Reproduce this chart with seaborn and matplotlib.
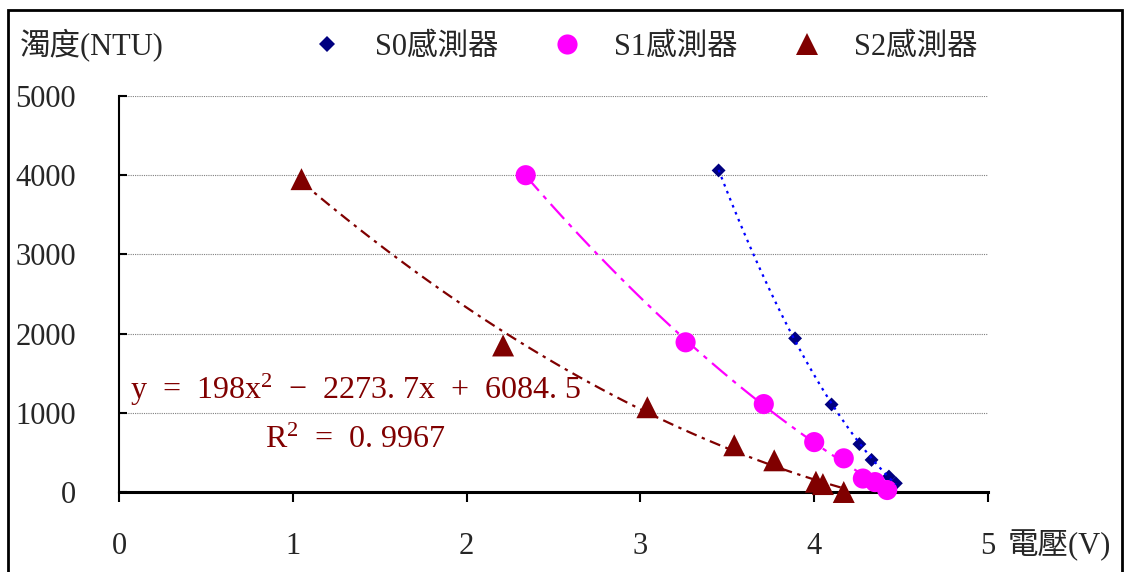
import numpy as np
import pandas as pd
import matplotlib
matplotlib.use("Agg")
import matplotlib.pyplot as plt
from matplotlib.lines import Line2D
from matplotlib.patches import Rectangle
import seaborn as sns

# data
s0_v = [3.45, 3.89, 4.10, 4.26, 4.33, 4.43, 4.47]
s0_ntu = [4060, 1940, 1105, 605, 405, 195, 110]
s1_v = [2.34, 3.26, 3.71, 4.00, 4.17, 4.28, 4.35, 4.42]
s1_ntu = [4000, 1890, 1110, 630, 425, 170, 125, 25]
s2_v = [1.05, 2.21, 3.04, 3.54, 3.77, 4.01, 4.05, 4.17]
s2_ntu = [3950, 1850, 1070, 590, 400, 130, 100, 0]
s2_coef = [198, -2273.7, 6084.5]
names = ["S0感測器", "S1感測器", "S2感測器"]
xticks = [0, 1, 2, 3, 4, 5]
yticks = [0, 1000, 2000, 3000, 4000, 5000]

sns.set_theme(style="white")
plt.rcParams["font.family"] = ["Liberation Serif", "Noto Sans CJK TC"]
plt.rcParams["mathtext.fontset"] = "custom"
plt.rcParams["mathtext.rm"] = "Liberation Serif"
plt.rcParams["mathtext.it"] = "Liberation Serif"

df = pd.DataFrame({
    "電壓": s0_v + s1_v + s2_v,
    "濁度": s0_ntu + s1_ntu + s2_ntu,
    "感測器": [names[0]] * len(s0_v) + [names[1]] * len(s1_v) + [names[2]] * len(s2_v),
})

colors = {names[0]: "#000080", names[1]: "#FF00FF", names[2]: "#800000"}
markers = {names[0]: "D", names[1]: "o", names[2]: "^"}
sizes = {names[0]: 50, names[1]: 210, names[2]: 250}

fig = plt.figure(figsize=(11.29, 5.72), dpi=100)
ax = fig.add_axes([119 / 1129, 1 - 492 / 572, (988 - 119) / 1129, (492 - 96) / 572])

sns.scatterplot(data=df, x="電壓", y="濁度", hue="感測器", style="感測器",
                size="感測器", palette=colors, markers=markers, sizes=sizes,
                linewidth=0, legend=False, ax=ax, zorder=3)
for coll in ax.collections:
    coll.set_clip_on(False)

# trend lines (quadratic, like the spreadsheet)
fits = [np.polyfit(s0_v, s0_ntu, 2), np.polyfit(s1_v, s1_ntu, 2), s2_coef]
xs_all = [s0_v, s1_v, s2_v]
lcol = ["#0000FF", "#FF00FF", "#800000"]
dashes = [(1.2, 2.2), (9, 3, 2, 3), (5, 2.5, 1.5, 2.5)]
for coef, xs, c, d in zip(fits, xs_all, lcol, dashes):
    xx = np.linspace(min(xs), max(xs), 100)
    ax.plot(xx, np.polyval(coef, xx), color=c, lw=1.6, dashes=d, zorder=4)

ax.set_xlim(0, 5)
ax.set_ylim(0, 5000)
ax.set_xticks(xticks)
ax.set_yticks(yticks)
ax.set_xlabel("")
ax.set_ylabel("")
ax.grid(axis="y", color="#808080", lw=0.8, ls=(0, (1, 1)))
ax.grid(axis="x", visible=False)
for side in ["top", "right"]:
    ax.spines[side].set_visible(False)
ax.spines["left"].set_color("black")
ax.spines["left"].set_linewidth(1.5)
ax.spines["bottom"].set_color("black")
ax.spines["bottom"].set_linewidth(2.2)
ax.tick_params(axis="x", direction="out", length=7, width=1.5, color="black",
               pad=22, labelsize=22, bottom=True)
ax.tick_params(axis="y", direction="in", length=6, width=1.5, color="black",
               pad=31, labelsize=22, left=True)

fig.text(20 / 1129, 1 - 45 / 572, "濁度(NTU)", fontsize=22, ha="left", va="center")
fig.text(1008 / 1129, 1 - 545 / 572, "電壓(V)", fontsize=22, ha="left", va="center")

fig.text(130 / 1129, 1 - 390 / 572, "y  =  198x$^2$  −  2273. 7x  +  6084. 5",
         fontsize=23, color="#800000", ha="left", va="center")
fig.text(265 / 1129, 1 - 440 / 572, "R$^2$  =  0. 9967",
         fontsize=23, color="#800000", ha="left", va="center")

handles = [Line2D([], [], ls="none", marker=markers[n], color=colors[n],
                  markersize=ms, markeredgewidth=0)
           for n, ms in zip(names, [8, 14.5, 16])]
fig.legend(handles, names, loc="center", bbox_to_anchor=(641 / 1129, 1 - 47 / 572),
           ncol=3, frameon=False, fontsize=22, handlelength=1.5,
           handletextpad=0.8, columnspacing=1.5)

fig.add_artist(Rectangle((8 / 1129, -0.1), (1122 - 8) / 1129, 1.1 - 10 / 572,
                         transform=fig.transFigure, fill=False, lw=2, ec="black"))

fig.savefig("out.png", dpi=100)
